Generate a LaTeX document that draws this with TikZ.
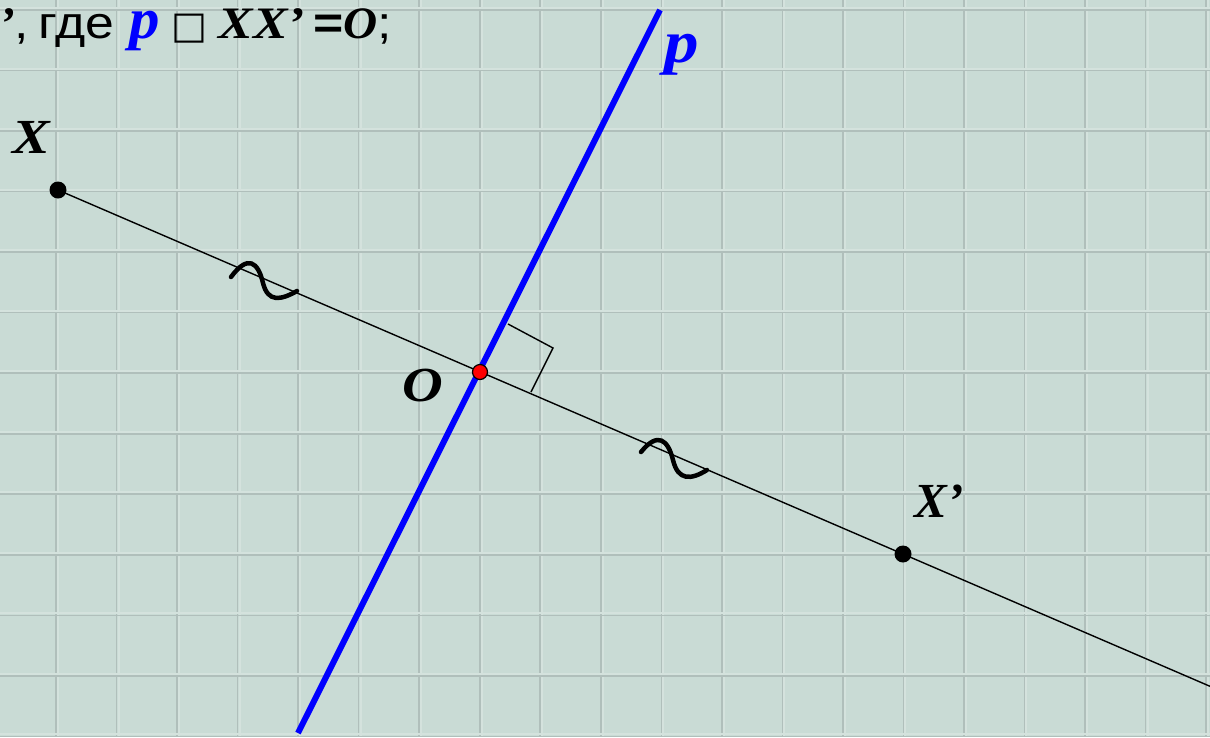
\documentclass[tikz,border=0pt]{standalone}
\usepackage{fontspec}
\usepackage{graphicx}
\setmainfont{Liberation Serif}
\newfontfamily\arialf{Liberation Sans}
\newfontfamily\dejavuf{DejaVu Sans}
\definecolor{bgc}{RGB}{201,219,213}
\definecolor{gridc}{RGB}{176,191,187}
\definecolor{gridl}{RGB}{212,226,221}
\newcommand{\sbi}{\bfseries\itshape}
\newcommand{\wide}[1]{\scalebox{1.15}[1]{#1}}
\newcommand{\swide}[1]{\scalebox{1.05}[1]{#1}}
\tikzset{
  gridline/.style={draw=gridc, line width=1.6pt},
  gridlight/.style={draw=gridl, line width=2pt},
  segline/.style={draw=black, line width=1.4pt},
  pline/.style={draw=blue, line width=6pt},
  wave/.style={draw=black, line width=4.5pt, line cap=round},
  rmark/.style={draw=black, line width=1.4pt},
  dotb/.style={circle, fill=black, inner sep=0pt, minimum size=17pt},
  dotr/.style={circle, fill=red, draw=black, line width=1.2pt, inner sep=0pt, minimum size=15pt},
  lab/.style={font=\fontsize{49}{52}\selectfont\sbi, inner sep=0pt}
}
\begin{document}
\begin{tikzpicture}[x=1pt,y=-1pt]
\useasboundingbox (0,0) rectangle (1210,737);
\clip (0,0) rectangle (1210,737);
\fill[bgc] (0,0) rectangle (1210,737);
% grid
\foreach \i in {0,...,19} {
  \draw[gridlight] ({58+60.53*\i},0) -- ++(0,737);
  \draw[gridline] ({56+60.53*\i},0) -- ++(0,737);
}
\foreach \j in {0,...,12} {
  \draw[gridlight] (0,{8+60.53*\j}) -- ++(1210,0);
  \draw[gridline] (0,{10+60.53*\j}) -- ++(1210,0);
}
% coordinates
\coordinate (X) at (58,190);
\coordinate (Xp) at (903,554);
\coordinate (O) at (480,372);
\coordinate (Lend) at (1210,686.3);
\coordinate (P1) at (298,733);
\coordinate (P2) at (660,10);
\coordinate (R1) at (508,324);
\coordinate (R2) at (553,348);
\coordinate (R3) at (531,392);
% segment line
\draw[segline] (X) -- (Lend);
% right angle mark
\draw[rmark] (R1) -- (R2) -- (R3);
% tilde marks
\draw[wave] (231,277) .. controls (248,254) and (258,262) .. (263,283)
            .. controls (268,303) and (281,300) .. (297,291);
\draw[wave] (641,452) .. controls (658,431) and (668,440) .. (673,460)
            .. controls (678,481) and (691,480) .. (707,470);
% blue line p
\draw[pline] (P1) -- (P2);
% points
\node[dotb] (Xdot) at (X) {};
\node[dotb] (Xpdot) at (Xp) {};
\node[dotr] (Odot) at (O) {};
% labels
\node[lab] (labX) at (31,137) {\wide{X}};
\node[lab] (labO) at (423,386) {\wide{O}};
\node[lab] (labXp) at (939,501) {X’};
\node[lab, text=blue, font=\fontsize{60}{64}\selectfont\sbi] (labp) at (682,55) {\wide{p}};
% title text
\node[anchor=base east, inner sep=0pt, font=\fontsize{45}{50}\selectfont] (title) at (392,38)
  {\swide{\sbi X’}\wide{\arialf ,\kern8pt где }\kern1pt\swide{\fontsize{58}{60}\selectfont\sbi\color{blue}p}\kern12pt{\dejavuf\fontsize{38}{40}\selectfont □}\kern11pt\wide{\sbi XX’}\kern8pt\wide{\arialf\bfseries =}\swide{\sbi O}\wide{\arialf ;}};
\end{tikzpicture}
\end{document}
